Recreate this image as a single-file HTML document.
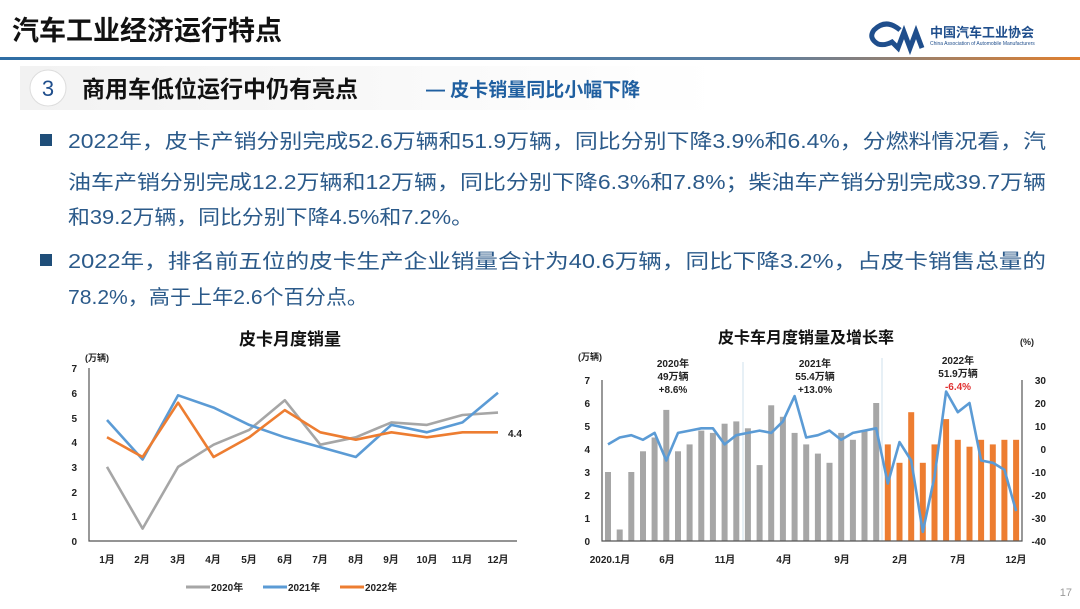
<!DOCTYPE html>
<html><head><meta charset="utf-8">
<style>
html,body{margin:0;padding:0;background:#fff;}
body{width:1080px;height:604px;overflow:hidden;position:relative;font-family:"Liberation Sans","Noto Sans CJK SC",sans-serif;}
svg text{font-family:"Liberation Sans","Noto Sans CJK SC",sans-serif;}
</style></head><body>
<svg id="s" width="1080" height="604" viewBox="0 0 1080 604" xmlns="http://www.w3.org/2000/svg">
<defs>
<linearGradient id="hl" x1="0" x2="1"><stop offset="0" stop-color="#2e6da4"/><stop offset="0.7" stop-color="#5a7fa3"/><stop offset="1" stop-color="#e0802f"/></linearGradient>
<linearGradient id="bn" x1="0" x2="1"><stop offset="0" stop-color="#f2f2f2"/><stop offset="1" stop-color="#ffffff"/></linearGradient>
</defs>
<text x="12" y="40" font-size="27" font-weight="bold" fill="#111">汽车工业经济运行特点</text>
<path d="M900 30 q-14 -12 -26 0 q-6 8 4 14 q6 2 14 -2 l6 6 l6 -16 l6 16 l6 -16 l6 16" fill="none" stroke="#1f4e8c" stroke-width="5"/>
<text x="930" y="37" font-size="13" font-weight="bold" fill="#1f4e8c">中国汽车工业协会</text>
<text x="930" y="45" font-size="5" fill="#1f4e8c">China Association of Automobile Manufacturers</text>
<rect x="0" y="57" width="1080" height="3" fill="url(#hl)"/>
<rect x="20" y="66" width="700" height="44" fill="url(#bn)"/>
<circle cx="48" cy="88" r="18" fill="#fff" stroke="#ddd"/>
<text x="48" y="96" font-size="22" text-anchor="middle" fill="#1f4e8c">3</text>
<text x="82" y="97" font-size="23" font-weight="bold" fill="#111">商用车低位运行中仍有亮点</text>
<text x="426" y="96" font-size="19" font-weight="bold" fill="#1f5fa0">— 皮卡销量同比小幅下降</text>
<g fill="#2b5a8a" font-size="20">
<rect x="40" y="134" width="12" height="12" fill="#1f4e79"/>
<text x="68" y="148" textLength="978" lengthAdjust="spacingAndGlyphs">2022年，皮卡产销分别完成52.6万辆和51.9万辆，同比分别下降3.9%和6.4%，分燃料情况看，汽</text>
<text x="68" y="189" textLength="978" lengthAdjust="spacingAndGlyphs">油车产销分别完成12.2万辆和12万辆，同比分别下降6.3%和7.8%；柴油车产销分别完成39.7万辆</text>
<text x="68" y="224" textLength="405" lengthAdjust="spacingAndGlyphs">和39.2万辆，同比分别下降4.5%和7.2%。</text>
<rect x="40" y="254" width="12" height="12" fill="#1f4e79"/>
<text x="68" y="268" textLength="978" lengthAdjust="spacingAndGlyphs">2022年，排名前五位的皮卡生产企业销量合计为40.6万辆，同比下降3.2%，占皮卡销售总量的</text>
<text x="68" y="304" textLength="300" lengthAdjust="spacingAndGlyphs">78.2%，高于上年2.6个百分点。</text>
</g>
<!-- left chart -->
<text x="290" y="345" font-size="17" font-weight="bold" text-anchor="middle" fill="#111">皮卡月度销量</text>
<text x="85" y="361" font-size="9" font-weight="bold" fill="#222">(万辆)</text>
<g font-size="10" font-weight="bold" fill="#222" text-anchor="end">
<text x="77" y="545">0</text><text x="77" y="520">1</text><text x="77" y="496">2</text><text x="77" y="471">3</text><text x="77" y="446">4</text><text x="77" y="422">5</text><text x="77" y="397">6</text><text x="77" y="372">7</text>
</g>
<path d="M89 368 V541 H517" fill="none" stroke="#555" stroke-width="1.2"/>
<g font-size="10" font-weight="bold" fill="#222" text-anchor="middle">
<text x="107" y="563">1月</text><text x="142" y="563">2月</text><text x="178" y="563">3月</text><text x="213" y="563">4月</text><text x="249" y="563">5月</text><text x="285" y="563">6月</text><text x="320" y="563">7月</text><text x="356" y="563">8月</text><text x="391" y="563">9月</text><text x="427" y="563">10月</text><text x="462" y="563">11月</text><text x="498" y="563">12月</text>
</g>
<text x="508" y="437" font-size="10" font-weight="bold" fill="#222">4.4</text>
<g id="lines" fill="none" stroke-width="2.6" stroke-linejoin="round"></g>
<g font-size="10" font-weight="bold" fill="#222">
<line x1="186" y1="587" x2="210" y2="587" stroke="#a6a6a6" stroke-width="3"/><text x="211" y="591">2020年</text>
<line x1="263" y1="587" x2="287" y2="587" stroke="#5b9bd5" stroke-width="3"/><text x="288" y="591">2021年</text>
<line x1="340" y1="587" x2="364" y2="587" stroke="#ed7d31" stroke-width="3"/><text x="365" y="591">2022年</text>
</g>
<!-- right chart -->
<text x="806" y="343" font-size="16" font-weight="bold" text-anchor="middle" fill="#111">皮卡车月度销量及增长率</text>
<text x="1020" y="345" font-size="9" font-weight="bold" fill="#222">(%)</text>
<text x="578" y="360" font-size="9" font-weight="bold" fill="#222">(万辆)</text>
<g font-size="10" font-weight="bold" fill="#222" text-anchor="end">
<text x="590" y="545">0</text><text x="590" y="522">1</text><text x="590" y="499">2</text><text x="590" y="476">3</text><text x="590" y="453">4</text><text x="590" y="430">5</text><text x="590" y="407">6</text><text x="590" y="384">7</text>
</g>
<g font-size="10" font-weight="bold" fill="#222" text-anchor="end">
<text x="1046" y="545">-40</text><text x="1046" y="522">-30</text><text x="1046" y="499">-20</text><text x="1046" y="476">-10</text><text x="1046" y="453">0</text><text x="1046" y="430">10</text><text x="1046" y="407">20</text><text x="1046" y="384">30</text>
</g>
<line x1="743" y1="362" x2="743" y2="541" stroke="#cfe0ee" stroke-width="1"/>
<line x1="882" y1="358" x2="882" y2="541" stroke="#cfe0ee" stroke-width="1"/>
<g id="bars"></g>
<path d="M602 380 V541 H1022 V380" fill="none" stroke="#555" stroke-width="1.2"/>
<path id="gl" fill="none" stroke="#5b9bd5" stroke-width="2.6" stroke-linejoin="round"/>
<g font-size="10" font-weight="bold" fill="#222" text-anchor="middle">
<text x="673" y="367">2020年</text><text x="673" y="380">49万辆</text><text x="673" y="393">+8.6%</text>
<text x="815" y="367">2021年</text><text x="815" y="380">55.4万辆</text><text x="815" y="393">+13.0%</text>
<text x="958" y="364">2022年</text><text x="958" y="377">51.9万辆</text><text x="958" y="390" fill="#e03030">-6.4%</text>
</g>
<g font-size="10" font-weight="bold" fill="#222" text-anchor="middle">
<text x="610" y="563">2020.1月</text><text x="667" y="563">6月</text><text x="725" y="563">11月</text><text x="784" y="563">4月</text><text x="842" y="563">9月</text><text x="900" y="563">2月</text><text x="958" y="563">7月</text><text x="1016" y="563">12月</text>
</g>
<text x="1072" y="596" font-size="11" fill="#999" text-anchor="end">17</text>
</svg>
<script>
var d20=[3.0,0.5,3.0,3.9,4.5,5.7,3.9,4.2,4.8,4.7,5.1,5.2],
d21=[4.9,3.3,5.9,5.4,4.7,4.2,3.8,3.4,4.7,4.4,4.8,6.0],
d22=[4.2,3.4,5.6,3.4,4.2,5.3,4.4,4.1,4.4,4.2,4.4,4.4];
var g=document.getElementById('lines'),NS='http://www.w3.org/2000/svg';
[[d20,'#a6a6a6'],[d21,'#5b9bd5'],[d22,'#ed7d31']].forEach(function(a){
 var p=document.createElementNS(NS,'polyline');
 p.setAttribute('points',a[0].map(function(v,i){return (107+i*35.55).toFixed(1)+','+(541-v*24.7).toFixed(1)}).join(' '));
 p.setAttribute('stroke',a[1]);g.appendChild(p);});
var all=d20.concat(d21,d22),b=document.getElementById('bars');
all.forEach(function(v,i){var r=document.createElementNS(NS,'rect');var x=608+i*11.66;
 r.setAttribute('x',(x-3).toFixed(1));r.setAttribute('width','6');r.setAttribute('y',(541-v*23).toFixed(1));r.setAttribute('height',(v*23).toFixed(1));
 r.setAttribute('fill',i<24?'#a6a6a6':'#ed7d31');b.appendChild(r);});
var gr=[2,5,6,4,7,-5,7,8,9,9,2,6,7,8,7,12,23,5,6,8,4,7,8,9,-15,3,-5,-36,-12,25,16,20,-5,-6,-9,-27];
document.getElementById('gl').setAttribute('d','M'+gr.map(function(p,i){return (608+i*11.66).toFixed(1)+' '+(541-(p+40)*2.3).toFixed(1)}).join(' L'));
</script>
</body></html>
